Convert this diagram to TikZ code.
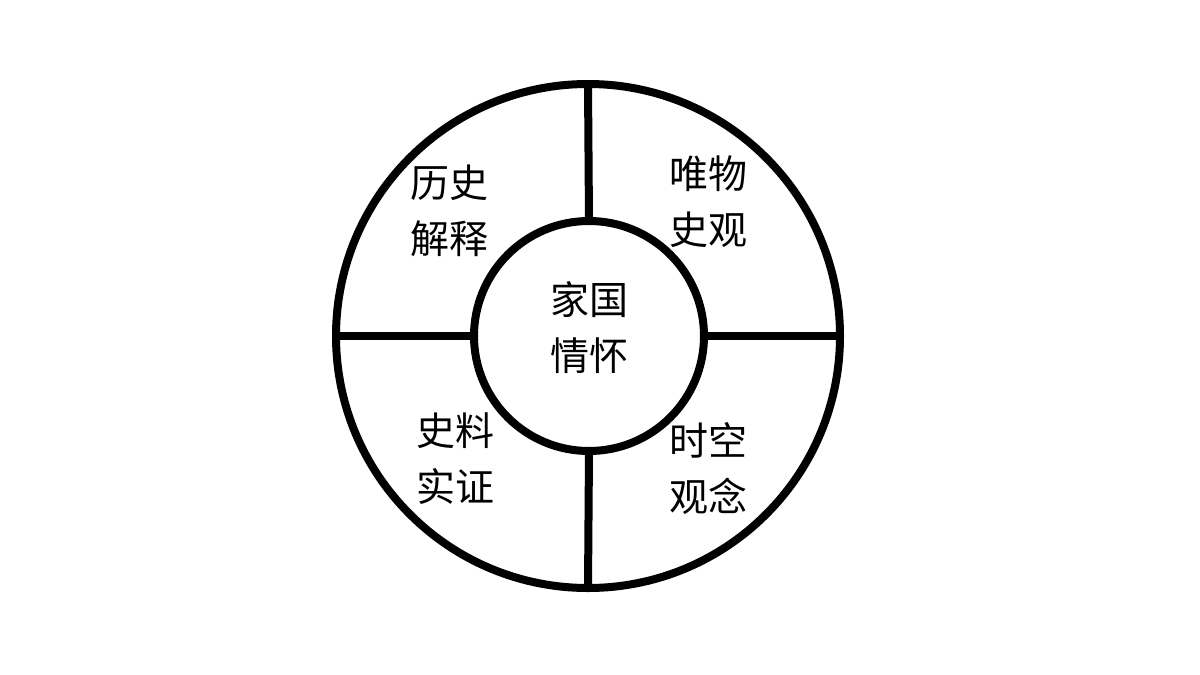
\documentclass[tikz,border=0pt]{standalone}
\usepackage{fontspec}
\newfontfamily\cjk{Noto Sans CJK SC}
\begin{document}
\begin{tikzpicture}[x=1pt,y=-1pt,
  ring/.style={draw=black,line width=8pt,circle,inner sep=0pt,outer sep=0pt},
  spoke/.style={draw=black,line width=8pt},
  lbl/.style={align=center,inner sep=0pt,font=\cjk\fontsize{39}{56}\selectfont}]
\useasboundingbox (0,0) rectangle (1200,675);
\fill[white] (0,0) rectangle (1200,675);
\node[ring,minimum size=504pt] (outer) at (588,336) {};
\node[ring,minimum size=230pt] (inner) at (589,336) {};
\draw[spoke] (outer.north) -- (inner.north);
\draw[spoke] (outer.south) -- (inner.south);
\draw[spoke] (outer.west) -- (inner.west);
\draw[spoke] (outer.east) -- (inner.east);
\node[lbl] (center) at (589,328) {家国\\情怀};
\node[lbl] (tl) at (449,211) {历史\\解释};
\node[lbl] (tr) at (708,202) {唯物\\史观};
\node[lbl] (bl) at (455,459) {史料\\实证};
\node[lbl] (br) at (708,469) {时空\\观念};
\end{tikzpicture}
\end{document}
